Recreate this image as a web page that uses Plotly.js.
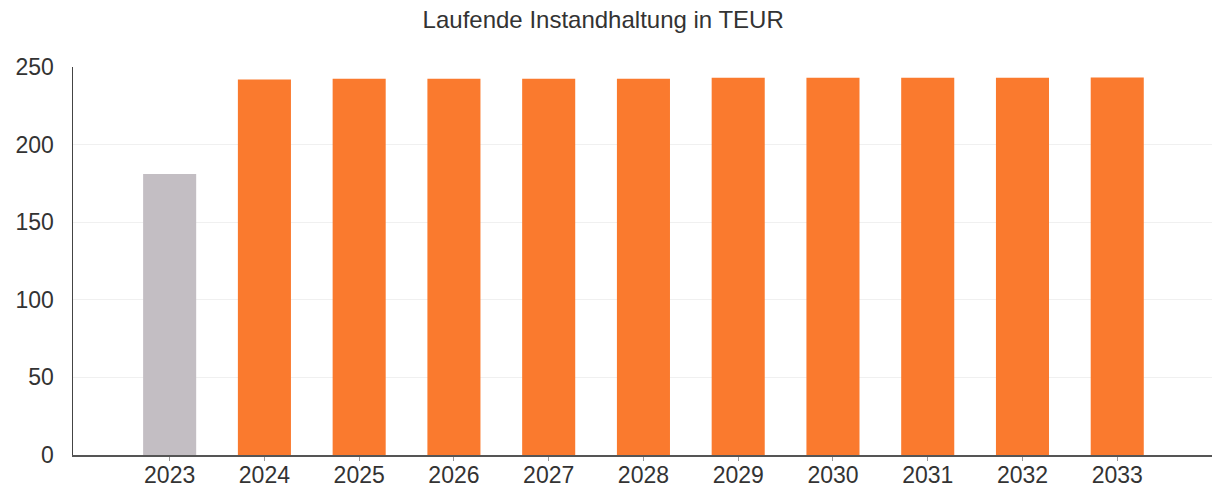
<!DOCTYPE html>
<html>
<head>
<meta charset="utf-8">
<script src="https://cdn.plot.ly/plotly-3.0.1.min.js"></script>
<style>html,body{margin:0;padding:0;background:#fff;}#chart{width:1226px;height:490px;}</style>
</head>
<body>
<div id="chart"></div>
<script>
const years = ["2023","2024","2025","2026","2027","2028","2029","2030","2031","2032","2033"];
const values = [181, 242, 242.5, 242.5, 242.5, 242.5, 243, 243, 243, 243, 243.3];
const barColors = ["#C3BEC3","#FA7A2E","#FA7A2E","#FA7A2E","#FA7A2E","#FA7A2E","#FA7A2E","#FA7A2E","#FA7A2E","#FA7A2E","#FA7A2E"];
const yTicks = [0, 50, 100, 150, 200, 250];
const titleText = "Laufende Instandhaltung in TEUR";

const trace = {
  type: "bar",
  x: years,
  y: values,
  marker: {color: barColors, line: {width: 0}},
  width: 0.56,
  hoverinfo: "x+y"
};

const layout = {
  width: 1226, height: 490,
  margin: {l: 73, r: 14, t: 67, b: 35, pad: 0},
  paper_bgcolor: "#ffffff",
  plot_bgcolor: "#ffffff",
  showlegend: false,
  title: {text: titleText, x: 0.492, xanchor: "center", y: 0.959, yanchor: "middle",
          font: {family: "Liberation Sans, Arial, sans-serif", size: 24, color: "#333333"}},
  xaxis: {
    type: "category",
    range: [-1.02, 11.0],
    showgrid: false,
    showline: true, linecolor: "#555555", linewidth: 1.5,
    ticks: "outside", ticklen: 4, tickcolor: "#999999",
    ticklabelstandoff: -5,
    tickfont: {family: "Liberation Sans, Arial, sans-serif", size: 23, color: "#333333"},
    zeroline: false
  },
  yaxis: {
    range: [0, 250],
    tickvals: yTicks,
    ticktext: yTicks.map(String),
    showgrid: true, gridcolor: "#f0f0f0", gridwidth: 1,
    showline: true, linecolor: "#444444", linewidth: 1.5,
    ticks: "", ticklabelstandoff: 13,
    tickfont: {family: "Liberation Sans, Arial, sans-serif", size: 23, color: "#333333"},
    zeroline: false
  }
};

Plotly.newPlot("chart", [trace], layout, {displayModeBar: false, staticPlot: true});
</script>
</body>
</html>
